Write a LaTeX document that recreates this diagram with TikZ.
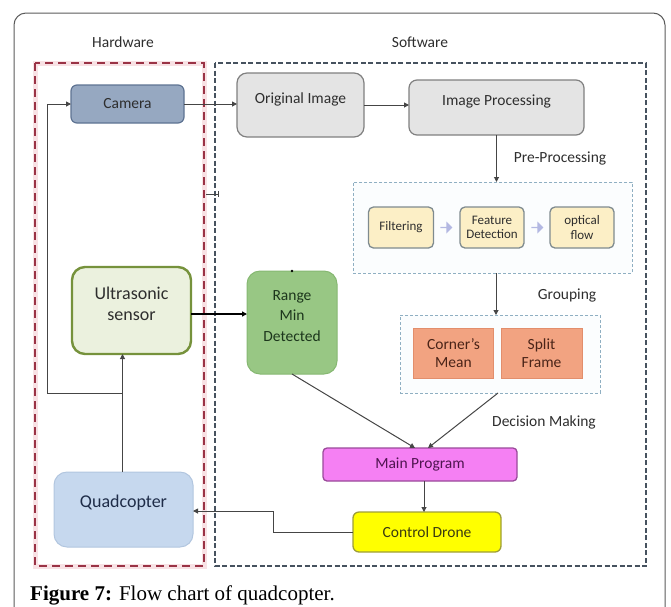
\documentclass[tikz,border=0pt]{standalone}
\usepackage{fontspec}
\setmainfont{Carlito}
\newfontfamily\capfont{Liberation Serif}
\usetikzlibrary{arrows.meta,shapes.arrows}
\definecolor{framec}{HTML}{5A5A5A}
\definecolor{txt}{HTML}{2E2E2E}
\definecolor{linec}{HTML}{454545}
\definecolor{hwred}{HTML}{9A3346}
\definecolor{hwpink}{HTML}{F8E2E5}
\definecolor{swdark}{HTML}{46525F}
\definecolor{camfill}{HTML}{96A8C1}
\definecolor{camdraw}{HTML}{5E7392}
\definecolor{grayfill}{HTML}{E4E4E4}
\definecolor{graydraw}{HTML}{808080}
\definecolor{dashblue}{HTML}{8FAFC2}
\definecolor{dashfill}{HTML}{FBFDFE}
\definecolor{yelfill}{HTML}{FCEFC6}
\definecolor{yeldraw}{HTML}{7F8B8F}
\definecolor{lav}{HTML}{B3B8E2}
\definecolor{ulfill}{HTML}{EBF1DE}
\definecolor{uldraw}{HTML}{76923C}
\definecolor{rgfill}{HTML}{98C784}
\definecolor{rgdraw}{HTML}{86B872}
\definecolor{rgtxt}{HTML}{1C361C}
\definecolor{orfill}{HTML}{F2A381}
\definecolor{ordraw}{HTML}{E28E6C}
\definecolor{ortxt}{HTML}{4A2418}
\definecolor{mpfill}{HTML}{F580F3}
\definecolor{mpdraw}{HTML}{9A4A9A}
\definecolor{mptxt}{HTML}{4F1450}
\definecolor{cdfill}{HTML}{FFFF00}
\definecolor{cddraw}{HTML}{9E9E3A}
\definecolor{cdtxt}{HTML}{3A3A10}
\definecolor{qdfill}{HTML}{C6D8EE}
\definecolor{qddraw}{HTML}{B2C6DF}
\definecolor{qdtxt}{HTML}{1E2C48}
\begin{document}
\begin{tikzpicture}[x=1pt,y=-1pt,
  shell/.style={inner sep=0pt, outer sep=0pt},
  conn/.style={draw=linec, line width=1pt, -{Triangle[length=5pt,width=5pt]}},
  plainline/.style={draw=linec, line width=1pt},
  lbl/.style={text=txt, font=\fontsize{15.5}{18}\selectfont, align=center, inner sep=0pt},
  bigl/.style={font=\fontsize{18}{21}\selectfont, align=center, inner sep=0pt},
  smalll/.style={text=txt, font=\fontsize{13}{14.5}\selectfont, align=center, inner sep=0pt},
  dashgroup/.style={shell, draw=dashblue, fill=dashfill, line width=1pt, dash pattern=on 3pt off 2pt},
  yelbox/.style={shell, draw=yeldraw, fill=yelfill, line width=1.3pt, rounded corners=5pt, minimum width=65pt, minimum height=41pt},
  orbox/.style={shell, draw=ordraw, fill=orfill, line width=1pt, minimum width=80pt, minimum height=50pt, text=ortxt, font=\fontsize{15.5}{18}\selectfont, align=center},
  blockarrow/.style={single arrow, fill=lav, draw=none, minimum height=12pt, minimum width=12pt, single arrow head extend=2pt, inner sep=0pt, single arrow tip angle=90},
]
\useasboundingbox (0,0) rectangle (671,606);
\begin{scope}
  \clip (0,0) rectangle (671,606);
  \draw[framec, line width=1pt, rounded corners=12pt] (14,13) rectangle (665,640);
\end{scope}

% group labels
\node[lbl] (hwlabel) at (123,42) {Hardware};
\node[lbl] (swlabel) at (420,42) {Software};

% hardware / software boxes
\draw[hwpink, line width=5pt] (35,63) rectangle (204,566);
\draw[hwred, line width=2.4pt, dash pattern=on 8pt off 5pt] (35,63) rectangle (204,566);
\draw[swdark, line width=1.8pt, dash pattern=on 5pt off 2.5pt] (215,63) rectangle (646,566);

% dashed group boxes
\node[dashgroup, minimum width=279pt, minimum height=91pt] (pre) at (492.5,227.5) {};
\node[dashgroup, minimum width=200pt, minimum height=78pt] (group) at (500,354) {};

% main nodes
\node[shell, draw=camdraw, fill=camfill, line width=1.2pt, rounded corners=6pt, minimum width=113pt, minimum height=38pt, lbl] (camera) at (127.5,104) {Camera};
\node[shell, draw=graydraw, fill=grayfill, line width=1.2pt, rounded corners=10pt, minimum width=127pt, minimum height=64pt] (orig) at (300.5,105) {};
\node[lbl] (origt) at (300.5,99) {Original Image};
\node[shell, draw=graydraw, fill=grayfill, line width=1.2pt, rounded corners=8pt, minimum width=175pt, minimum height=55pt] (ip) at (496.5,107.5) {};
\node[lbl] (ipt) at (496.5,101) {Image Processing};

\node[yelbox] (filt) at (401,227.5) {};
\node[smalll] (filtt) at (401,227.5) {Filtering};
\node[yelbox, minimum width=64pt] (feat) at (492,227.5) {};
\node[smalll] (featt) at (492,227.5) {Feature\\Detection};
\node[yelbox, minimum width=64pt] (opt) at (582,227.5) {};
\node[smalll] (optt) at (582,227.5) {optical\\flow};
\node[blockarrow] (ba1) at (446,227.5) {};
\node[blockarrow] (ba2) at (537,227.5) {};

\node[shell, draw=uldraw, fill=ulfill, line width=2.4pt, rounded corners=13pt, minimum width=119pt, minimum height=87pt] (ultra) at (131.5,310.5) {};
\node[bigl, text=txt] (ultrat) at (131.5,304) {Ultrasonic\\sensor};

\node[shell, draw=rgdraw, fill=rgfill, line width=1pt, rounded corners=13pt, minimum width=90pt, minimum height=103pt] (range) at (292,322.5) {};
\node[lbl, text=rgtxt, font=\fontsize{15.5}{20.5}\selectfont] (ranget) at (292,316) {Range\\Min\\Detected};
\fill[black] (range.north) circle (1.4pt);

\node[orbox] (corner) at (453.5,353) {Corner's\\Mean};
\node[orbox, minimum width=81pt] (split) at (541.5,353) {Split\\Frame};

\node[shell, draw=mpdraw, fill=mpfill, line width=1.3pt, rounded corners=4pt, minimum width=194pt, minimum height=33pt, lbl, text=mptxt] (main) at (420,464.5) {Main Program};
\node[shell, draw=cddraw, fill=cdfill, line width=1.3pt, rounded corners=6pt, minimum width=148pt, minimum height=40pt, lbl, text=cdtxt] (control) at (427,532) {Control Drone};
\node[shell, draw=qddraw, fill=qdfill, line width=1pt, rounded corners=13pt, minimum width=139pt, minimum height=75pt] (quad) at (123.5,509.5) {};
\node[bigl, text=qdtxt] (quadt) at (123.5,503) {Quadcopter};

% section labels
\node[lbl] (prel) at (560,158) {Pre-Processing};
\node[lbl] (grpl) at (567,295) {Grouping};
\node[lbl] (decl) at (544,422) {Decision Making};

% connectors
\draw[conn] (camera.east) -- (camera.east -| orig.west);
\draw[conn] (orig.east) -- (orig.east -| ip.west);
\draw[conn] (ip.south) -- (ip.south |- pre.north);
\draw[conn] ([xshift=-4pt]group.north |- pre.south) -- ([xshift=-4pt]group.north);
\draw[conn, line width=1.6pt, draw=black] ([yshift=-3.5pt]ultra.east) -- ([yshift=8.5pt]range.west);
\draw[conn] (range.south) -- ([xshift=-5pt]main.north);
\draw[conn] ([xshift=-2pt]group.south) -- ([xshift=8pt]main.north);
\draw[conn] ([xshift=4pt]main.south) -- ([xshift=-3pt]control.north);
\draw[conn] (control.west) -- ++(-80,0) |- ([yshift=-1.5pt]quad.east);
\draw[conn] ([xshift=-1pt]quad.north) -- ([xshift=-1pt]quad.north |- ultra.south);
\coordinate (branch) at ([xshift=-1pt]quad.north |- 0,393);
\coordinate (loopcorner) at (47,393);
\draw[conn] (branch) -- (loopcorner) |- (camera.west);

% small crossing mark between the two boxes
\coordinate (tickA) at (206,194);
\coordinate (tickB) at (218,194);
\draw[plainline, line width=0.8pt] (tickA) -- (tickB);
\draw[plainline, line width=0.8pt] ([yshift=3pt]tickB) -- ([yshift=-3pt]tickB);

% caption
\node[anchor=base west, inner sep=0pt, font=\capfont\fontsize{21}{25}\selectfont, text=black] (caption) at (30,600) {\textbf{Figure 7:} Flow chart of quadcopter.};
\end{tikzpicture}
\end{document}
